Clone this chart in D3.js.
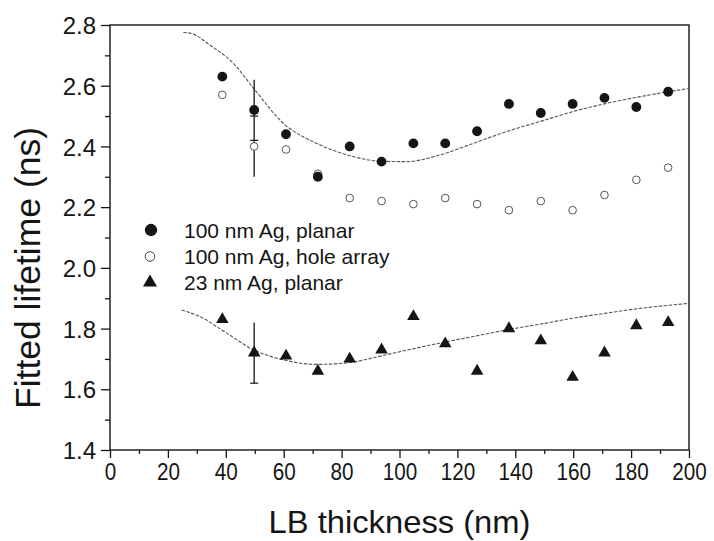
<!DOCTYPE html>
<html><head><meta charset="utf-8">
<script src="https://cdn.jsdelivr.net/npm/d3@7/dist/d3.min.js"></script>
<style>
html,body{margin:0;padding:0;background:#fff;}
svg{display:block;font-family:"Liberation Sans",Arial,Helvetica,sans-serif;}
</style></head>
<body><svg id="c" width="714" height="541"></svg>
<script>
// ---- data ----
const thickness = [38.8,49.8,60.8,71.8,82.8,93.8,104.8,115.8,126.8,137.8,148.8,159.8,170.8,181.8,192.8];
const planar100 = [2.63,2.52,2.44,2.30,2.40,2.35,2.41,2.41,2.45,2.54,2.51,2.54,2.56,2.53,2.58];
const hole100   = [2.57,2.40,2.39,2.31,2.23,2.22,2.21,2.23,2.21,2.19,2.22,2.19,2.24,2.29,2.33];
const planar23  = [1.83,1.72,1.71,1.66,1.70,1.73,1.84,1.75,1.66,1.80,1.76,1.64,1.72,1.81,1.82];
const fitTopX = [25.3,28.8,34.5,42.6,49.8,59.9,71.4,82.7,93.7,102.5,114,125.5,137,148.5,160,171.6,183.1,200];
const fitTopY = [2.776,2.77,2.734,2.674,2.589,2.476,2.41,2.37,2.351,2.35,2.372,2.41,2.449,2.482,2.515,2.542,2.564,2.591];
const fitBotX = [24.7,31.1,40.3,49.8,59.9,71.4,82.7,93.7,102.5,113.4,126.6,137.8,148.9,159.8,170.9,181.8,200];
const fitBotY = [1.861,1.839,1.785,1.729,1.697,1.682,1.688,1.71,1.729,1.751,1.776,1.797,1.815,1.834,1.85,1.865,1.883];
const errX = [49.8,49.8];
const errLo = [2.30,1.62];
const errHi = [2.62,1.82];
const capY = [2.50,2.42,1.62];
const seriesNames = ["100 nm Ag, planar","100 nm Ag, hole array","23 nm Ag, planar"];
const xTicks = [0,20,40,60,80,100,120,140,160,180,200];
const yTicks = [1.4,1.6,1.8,2.0,2.2,2.4,2.6,2.8];

// ---- layout ----
const L=110,R=689,T=25,B=450;
const svg=d3.select("#c");
const x=d3.scaleLinear().domain([0,200]).range([L,R]);
const y=d3.scaleLinear().domain([1.4,2.8]).range([B,T]);
const ink="#151515";
const ff="Liberation Sans, Arial, sans-serif";

// frame
svg.append("rect").attr("x",L).attr("y",T).attr("width",R-L).attr("height",B-T)
  .attr("fill","none").attr("stroke",ink).attr("stroke-width",1.4);

// x axis
const xMinor=d3.range(10,200,20);
const gx=svg.append("g").attr("transform",`translate(0,${B})`);
gx.call(d3.axisBottom(x).tickValues(xTicks).tickSize(8).tickFormat(d3.format("d")));
gx.append("g").call(d3.axisBottom(x).tickValues(xMinor).tickSize(4).tickFormat(""));
gx.selectAll(".domain").remove();
gx.selectAll("line").attr("stroke",ink).attr("stroke-width",1.3);
gx.selectAll("text").attr("fill",ink).attr("font-size",24).attr("font-family",ff).attr("dy","0.93em").attr("y",8)
  .attr("textLength",d=>String(d).length*11.5).attr("lengthAdjust","spacingAndGlyphs");

// y axis
const yMinor=d3.range(1.5,2.8,0.2);
const gy=svg.append("g").attr("transform",`translate(${L},0)`);
gy.call(d3.axisLeft(y).tickValues(yTicks).tickSize(9).tickFormat(d3.format(".1f")));
gy.append("g").call(d3.axisLeft(y).tickValues(yMinor).tickSize(5).tickFormat(""));
gy.selectAll(".domain").remove();
gy.selectAll("line").attr("stroke",ink).attr("stroke-width",1.3);
gy.selectAll("text").attr("fill",ink).attr("font-size",24).attr("font-family",ff).attr("x",-14).attr("dy","0.36em");

// titles
svg.append("text").attr("x",(L+R)/2).attr("y",533).attr("text-anchor","middle")
  .attr("font-size",32).attr("fill",ink).attr("textLength",262).attr("lengthAdjust","spacingAndGlyphs").text("LB thickness (nm)");
svg.append("text").attr("transform","translate(40,268) rotate(-90)").attr("text-anchor","middle")
  .attr("font-size",35.5).attr("fill",ink).text("Fitted lifetime (ns)");

// fit curves
const line=d3.line().x(d=>x(d[0])).y(d=>y(d[1])).curve(d3.curveMonotoneX);
[[fitTopX,fitTopY],[fitBotX,fitBotY]].forEach(([xs,ys])=>{
  svg.append("path").attr("d",line(xs.map((v,i)=>[v,ys[i]])))
    .attr("fill","none").attr("stroke","#555").attr("stroke-width",1.1)
    .attr("stroke-dasharray","3.5,1.5");
});

// error bars
errX.forEach((v,i)=>{
  svg.append("line").attr("x1",x(v)).attr("x2",x(v)).attr("y1",y(errLo[i])).attr("y2",y(errHi[i]))
    .attr("stroke",ink).attr("stroke-width",1.3);
});
capY.forEach(c=>{
  svg.append("line").attr("x1",x(errX[0])-4).attr("x2",x(errX[0])+4).attr("y1",y(c)).attr("y2",y(c))
    .attr("stroke",ink).attr("stroke-width",1.2);
});

// markers
const circ=d3.symbol().type(d3.symbolCircle);
const tri=d3.symbol().type(d3.symbolTriangle);
svg.append("g").selectAll("path").data(thickness.map((v,i)=>[v,hole100[i]])).join("path")
  .attr("transform",d=>`translate(${x(d[0])},${y(d[1])})`).attr("d",circ.size(46)())
  .attr("fill","#fff").attr("stroke","#444").attr("stroke-width",0.9);
svg.append("g").selectAll("path").data(thickness.map((v,i)=>[v,planar100[i]])).join("path")
  .attr("transform",d=>`translate(${x(d[0])},${y(d[1])})`).attr("d",circ.size(76)())
  .attr("fill",ink);
svg.append("g").selectAll("path").data(thickness.map((v,i)=>[v,planar23[i]])).join("path")
  .attr("transform",d=>`translate(${x(d[0])},${y(d[1])})`).attr("d",tri.size(68)())
  .attr("fill",ink);

// legend
const lg=svg.append("g");
const rows=[230,256.5,282.5];
lg.append("path").attr("transform",`translate(151,${rows[0]})`).attr("d",circ.size(120)()).attr("fill",ink);
lg.append("path").attr("transform",`translate(150,${rows[1]})`).attr("d",circ.size(72)()).attr("fill","#fff").attr("stroke","#444").attr("stroke-width",1);
lg.append("path").attr("transform",`translate(150,${rows[2]})`).attr("d",tri.size(85)()).attr("fill",ink);
seriesNames.forEach((s,i)=>{
  lg.append("text").attr("x",184).attr("y",rows[i]).attr("dy","0.36em").attr("font-size",21).attr("fill",ink).text(s);
});
</script></body></html>
